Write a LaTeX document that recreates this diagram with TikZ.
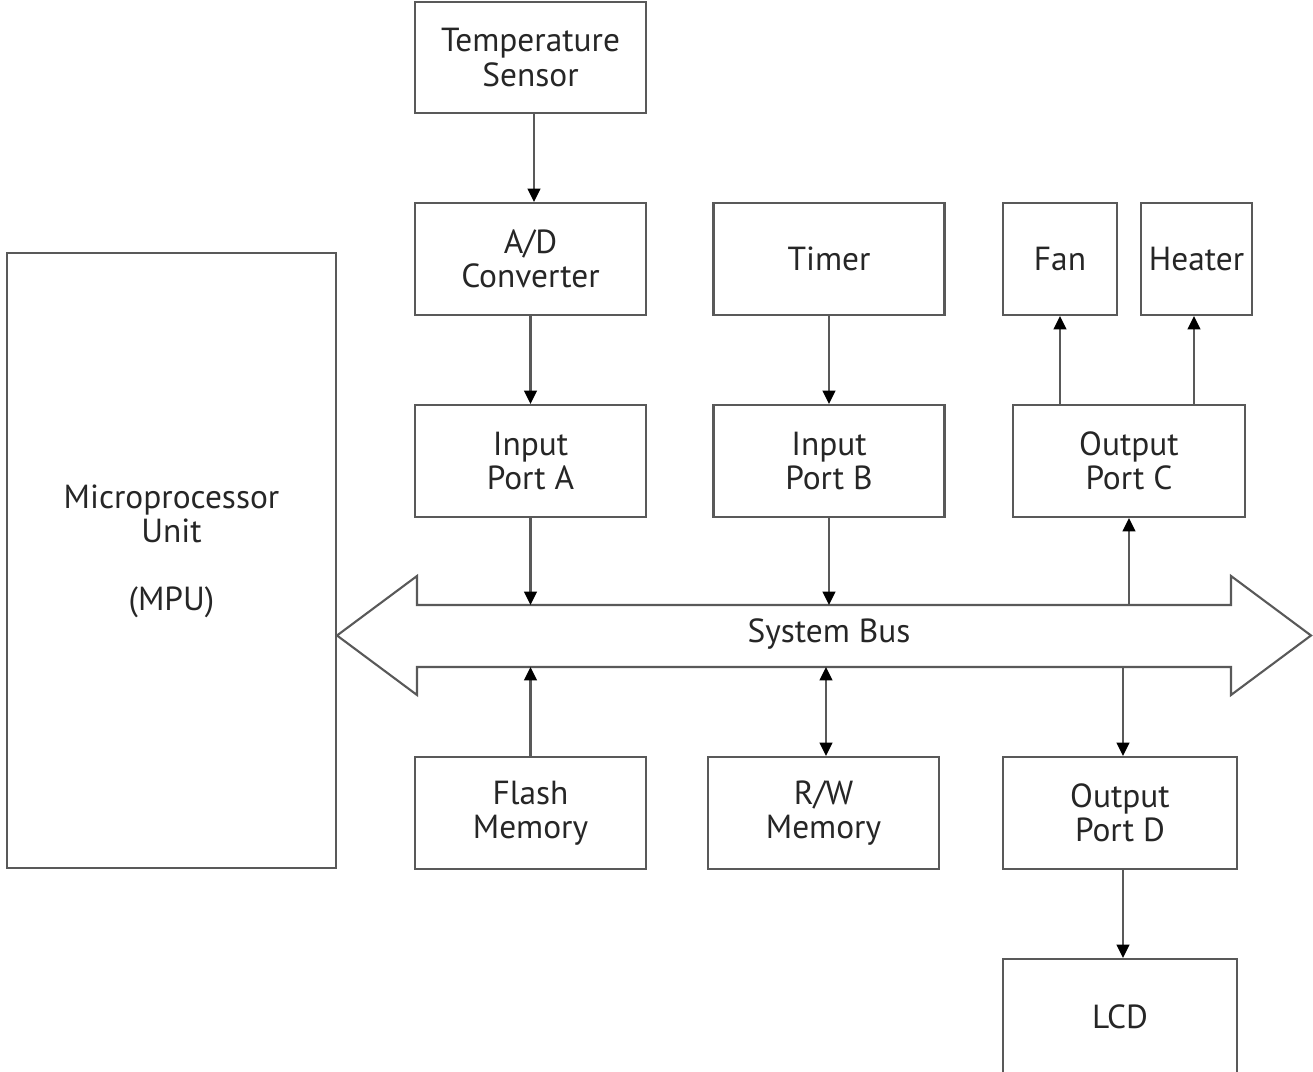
\documentclass[tikz,border=0pt]{standalone}
\usepackage{fontspec}
\setmainfont{PT Sans}
\usetikzlibrary{arrows.meta}

\tikzset{
  blok/.style={draw=black!65, line width=0.6pt, minimum width=2.31cm, minimum height=1.12cm,
    align=center, inner sep=1pt, font=\fontsize{9.5}{9.7}\selectfont, text=black!85},
}

\begin{document}
\begin{tikzpicture}[>={Triangle[width=3.6pt,length=3.8pt,color=black]}, line width=0.6pt, draw=black!65]
  \useasboundingbox (0,0) rectangle (13.13,-10.72);

  \draw (5.305,-0.575) node[blok, minimum height=1.11cm] (sensor) {Temperature\\Sensor};
  \draw (5.305,-2.59) node[blok] (adc) {A/D\\Converter};
  \draw (8.29,-2.59) node[blok] (timer) {Timer};
	\draw (10.60,-2.59) node[blok, minimum width=1.14cm] (fan) {Fan};
	\draw (11.965,-2.59) node[blok, minimum width=1.11cm] (heater) {Heater};
  \draw (1.715,-5.605) node[blok, minimum width=3.29cm, minimum height=6.15cm] (mpu) {Microprocessor\\Unit\\ \\(MPU)\\[-2.3pt]\mbox{}};
  \draw (5.305,-4.61) node[blok] (portA) {Input\\Port A};
  \draw (8.29,-4.61) node[blok] (portB) {Input\\Port B};
  \draw (11.29,-4.61) node[blok, minimum width=2.32cm] (portC) {Output\\Port C};
	\draw (5.305,-8.13) node[blok] (flash) {Flash\\Memory};
	\draw (8.235,-8.13) node[blok] (rw) {R/W\\Memory};
	\draw (11.20,-8.13) node[blok, minimum width=2.34cm] (portD) {Output\\Port D};
	  \draw (11.20,-10.17) node[blok, minimum width=2.34cm, minimum height=1.16cm] (lcd) {LCD};

  % system bus
  \draw (3.37,-6.355) -- (4.17,-5.76) -- (4.17,-6.05) -- (12.31,-6.05) -- (12.31,-5.76)
    -- (13.11,-6.355) -- (12.31,-6.95) -- (12.31,-6.67) -- (4.17,-6.67) -- (4.17,-6.95) -- cycle;
  \draw (8.29,-6.34) node[font=\fontsize{9.5}{9.7}\selectfont, text=black!85] (bus) {System Bus};
  \coordinate (bustop) at (8.29,-6.05);
  \coordinate (busbot) at (8.29,-6.67);

    \path[->] ([xshift=0.035cm]sensor.south) edge ([xshift=0.035cm]adc.north);
    \path[->] (adc) edge (portA);
    \path[->] (timer) edge (portB);
	  \path[->] (portA) edge (portA |- bustop);
	  \path[->] (portB) edge (portB |- bustop);
    \path[->] (portC |- bustop) edge (portC);
    \path[->] (portC.north -| fan) edge (fan);
	\path[->] ([xshift=-0.025cm]portC.north -| heater) edge ([xshift=-0.025cm]heater.south);
	\path[->] (flash) edge (flash |- busbot);
	\path[<->] ([xshift=0.025cm]rw.north) edge ([xshift=0.025cm]rw.north |- busbot);
	    \path[->] ([xshift=0.03cm]portD.north |- busbot) edge ([xshift=0.03cm]portD.north);
	    \path[->] ([xshift=0.03cm]portD.south) edge ([xshift=0.03cm]lcd.north);

\end{tikzpicture}
\end{document}
